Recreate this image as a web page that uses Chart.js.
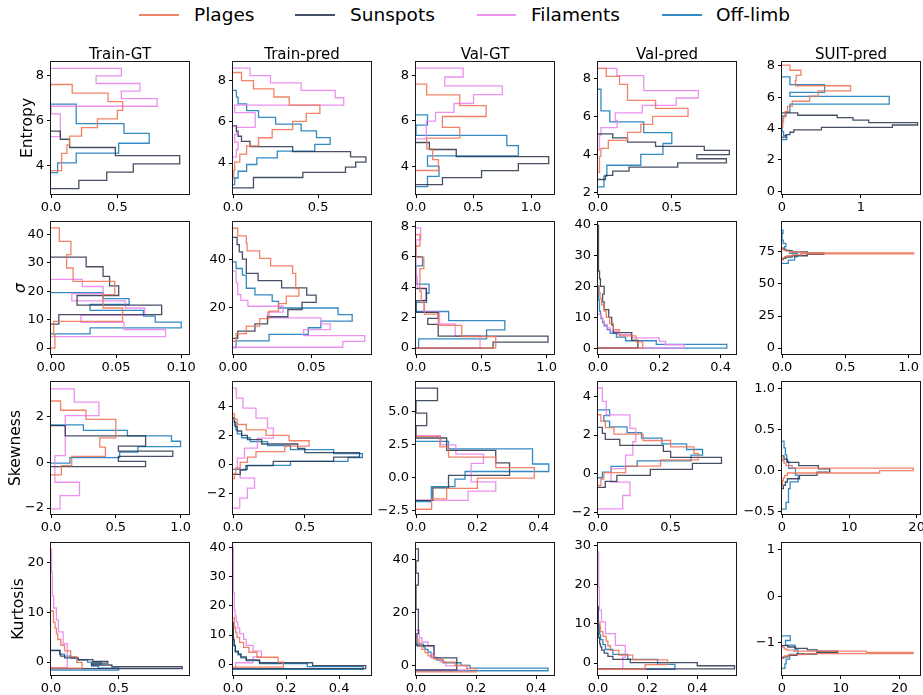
<!DOCTYPE html>
<html>
<head>
<meta charset="utf-8">
<script src="https://cdn.jsdelivr.net/npm/chart.js@4.4.1/dist/chart.umd.min.js"></script>
<style>
  body { margin: 0; background: #fff; }
  #figure { position: relative; width: 923px; height: 695px; overflow: hidden; font-family: 'DejaVu Sans', sans-serif; }
  #figure canvas { position: absolute; }
  .legend-line { position: absolute; height: 1.5px; top: 14px; }
  .legend-text { position: absolute; top: 3px; font-size: 18.5px; line-height: 24px; color: #000; white-space: nowrap; }
</style>
</head>
<body>
<div id="figure"></div>
<script>
var seriesNames = ['Plages', 'Sunspots', 'Filaments', 'Off-limb'];
var seriesColors = ['rgba(240,118,88,0.9)', 'rgba(38,50,74,0.85)', 'rgba(234,134,236,0.9)', 'rgba(30,126,190,0.9)'];
var columnTitles = ['Train-GT', 'Train-pred', 'Val-GT', 'Val-pred', 'SUIT-pred'];
var rowTitles = ['Entropy', 'σ', 'Skewness', 'Kurtosis'];

// each histogram: [lowest edge, highest edge, densities from the lowest bin up]
// order inside a panel: Plages, Sunspots, Filaments, Off-limb (null = not shown)

// Entropy
var entropyTrainGT = [
  [3.78, 7.61, [0.08, 0.08, 0.12, 0.14, 0.23, 0.35, 0.50, 0.54, 0.43, 0.16]],
  [2.98, 5.54, [0.21, 0.42, 0.62, 0.97, 0.485, 0.14, 0.07]],
  [5.29, 8.33, [0.07, 0.07, 0.07, 0.0, 0.80, 0.53, 0.67, 0.34, 0.53]],
  [3.69, 6.74, [0.05, 0.19, 0.51, 0.74, 0.55, 0.19, 0.19]]
];
var entropyTrainPred = [
  [3.25, 8.39, [0.005, 0.01, 0.04, 0.08, 0.15, 0.23, 0.35, 0.43, 0.51, 0.33, 0.24, 0.12, 0.05]],
  [2.80, 5.80, [0.12, 0.12, 0.41, 0.66, 0.72, 0.78, 0.69, 0.35, 0.10, 0.05, 0.03, 0.02]],
  [4.30, 8.60, [0.02, 0.03, 0.01, 0.02, 0.13, 0.13, 0.01, 0.65, 0.60, 0.40, 0.22, 0.10]],
  [2.95, 7.52, [0.01, 0.03, 0.08, 0.14, 0.26, 0.48, 0.57, 0.49, 0.40, 0.25, 0.15, 0.08, 0.03, 0.02]]
];
var entropyValGT = [
  [3.82, 7.61, [0.195, 0.145, 0.093, 0.38, 0.23, 0.61, 0.38, 0.093]],
  [3.20, 5.05, [0.23, 0.57, 0.89, 1.154, 0.35, 0.116]],
  [5.21, 8.31, [0.09, 0.09, 0.17, 0.33, 0.50, 0.75, 0.25, 0.41]],
  [3.11, 6.26, [0.10, 0.20, 0.10, 0.89, 0.79, 0.0, 0.10]]
];
var entropyValPred = [
  [3.08, 8.54, [0.01, 0.01, 0.02, 0.07, 0.20, 0.29, 0.37, 0.61, 0.39, 0.20, 0.20, 0.146, 0.056]],
  [2.70, 5.10, [0.05, 0.10, 0.21, 0.54, 0.87, 0.67, 0.89, 0.72, 0.39, 0.20, 0.10]],
  [4.25, 8.54, [0.01, 0.01, 0.02, 0.13, 0.117, 0.30, 0.53, 0.68, 0.31, 0.31, 0.128]],
  [2.31, 7.44, [0.04, 0.06, 0.29, 0.44, 0.50, 0.31, 0.08, 0.02, 0.02]]
];
var entropySuitPred = [
  [4.09, 8.05, [0.01, 0.02, 0.04, 0.07, 0.13, 0.35, 0.46, 0.87, 0.17, 0.18, 0.24, 0.10]],
  [3.45, 5.00, [0.05, 0.10, 0.15, 0.50, 1.40, 1.72, 1.10, 0.90, 0.70, 0.20]],
  null,
  [3.30, 7.30, [0.06, 0.02, 0, 0, 0, 0, 0.05, 0.10, 0.10, 1.36, 1.36, 0.10, 0.54, 0.54, 0.10, 0.10]]
];

// Sigma
var sigmaTrainGT = [
  [0, 42.3, [0.003, 0.002, 0.055, 0.040, 0.049, 0.017, 0.012, 0.0153, 0.0064]],
  [8.4, 32.0, [0.006, 0.085, 0.020, 0.052, 0.045, 0.040, 0.027]],
  [4.0, 24.2, [0.088, 0.056, 0.023, 0.072, 0.057, 0.016, 0.040, 0.024]],
  [5.0, 19.5, [0.030, 0.10, 0.080, 0.071, 0.030, 0.060, 0.040]]
];
var sigmaTrainPred = [
  [6.0, 53.0, [0.002, 0.0085, 0.017, 0.023, 0.029, 0.034, 0.042, 0.04, 0.04, 0.038, 0.024, 0.017, 0.009, 0.0085, 0.003]],
  [7.2, 49.2, [0.003, 0.014, 0.022, 0.035, 0.044, 0.053, 0.047, 0.031, 0.016, 0.0085, 0.0085, 0.006, 0.004, 0.0026]],
  [3.5, 35.2, [0.07, 0.084, 0.045, 0.062, 0.056, 0.022, 0.032, 0.0095, 0.005, 0.003, 0.003, 0.002, 0.002]],
  [3.4, 39.0, [0.002, 0.023, 0.048, 0.056, 0.076, 0.067, 0.029, 0.025, 0.014, 0.0085, 0.0085, 0.006, 0.002]]
];
var sigmaValGT = [
  [0, 7.45, [0.61, 0.35, 0.17, 0.064, 0.04, 0.03, 0.03, 0.06, 0.0, 0.03]],
  [0, 3.9, [0.59, 1.01, 0.17, 0.17, 0.09, 0.17, 0.0, 0.0, 0.08, 0.08]],
  [0, 7.9, [0.49, 0.30, 0.18, 0.06, 0.076, 0.01, 0.0, 0.0, 0.0, 0.036]],
  [0, 6.0, [0.02, 0.54, 0.68, 0.25, 0.0, 0.08, 0.10, 0.0, 0.0, 0.05]]
];
var sigmaValPred = [
  [0, 20, [0.146, 0.124, 0.07, 0.05, 0.038, 0.027, 0.02, 0.012, 0.007, 0.004]],
  [0, 40, [0.13, 0.11, 0.05, 0.045, 0.035, 0.02, 0.015, 0.02, 0.008, 0.005, 0.003, 0.002, 0.002, 0.001, 0.001, 0.002]],
  [0, 11, [0.28, 0.22, 0.2, 0.11, 0.065, 0.04, 0.03, 0.02, 0.015, 0.01]],
  [0, 20.4, [0.42, 0.19, 0.09, 0.06, 0.04, 0.03, 0.02, 0.015, 0.01, 0.008, 0.006, 0.005, 0.004, 0.003, 0.003, 0.002, 0.002]]
];
var sigmaSuitPred = [
  [69, 78, [0.005, 0.01, 0.02, 0.04, 0.08, 0.15, 1.04, 0.15, 0.06, 0.03, 0.01, 0.005]],
  [69, 78, [0.01, 0.03, 0.08, 0.2, 0.33, 0.2, 0.08, 0.03, 0.01]],
  null,
  [66, 92, [0.05, 0.1, 0.12, 0.06, 0.02, 0.03, 0.01, 0.0, 0.0, 0.008]]
];

// Skewness
var skewTrainGT = [
  [-0.55, 2.67, [0.08, 0.16, 0.42, 0.377, 0.50, 0.50, 0.27, 0.074]],
  [-0.19, 1.6, [0.73, 0.52, 0.94, 0.52, 0.73, 0.73, 0.11, 0.11]],
  [-2.04, 3.2, [0.07, 0.22, 0.03, 0.03, 0.11, 0.11, 0.11, 0.37, 0.18]],
  [-0.04, 1.63, [0.146, 0.53, 0.67, 1.0, 0.93, 0.59, 0.25]]
];
var skewTrainPred = [
  [-1.0, 3.5, [0.01, 0.02, 0.05, 0.10, 0.16, 0.36, 0.53, 0.39, 0.23, 0.093, 0.03, 0.01]],
  [-0.7, 3.2, [0.05, 0.09, 0.28, 0.7, 0.88, 0.5, 0.45, 0.2, 0.1, 0.06, 0.03, 0.02, 0.01]],
  [-3.04, 5.27, [0.047, 0.1, 0.15, 0.05, 0.03, 0.08, 0.17, 0.28, 0.24, 0.16, 0.07, 0.023]],
  [-0.35, 3.2, [0.1, 0.4, 0.8, 0.9, 0.7, 0.4, 0.24, 0.12, 0.06, 0.03, 0.02, 0.01, 0.01]]
];
var skewValGT = [
  [-2.43, 3.1, [0.051, 0.1, 0.2, 0.386, 0.26, 0.106, 0.078]],
  [-1.75, 6.76, [0.055, 0.106, 0.305, 0.26, 0.10, 0.0, 0.035, 0.0, 0.07]],
  [-1.75, 3.15, [0.17, 0.26, 0.18, 0.18, 0.22, 0.13, 0.08]],
  [-1.85, 2.72, [0.05, 0.05, 0.127, 0.16, 0.433, 0.38, 0.38, 0.106]]
];
var skewValPred = [
  [-0.6, 3.05, [0.02, 0.04, 0.19, 0.43, 0.69, 0.66, 0.5, 0.31, 0.11, 0.05, 0.02]],
  [-0.7, 2.4, [0.05, 0.13, 0.36, 0.65, 0.85, 0.5, 0.45, 0.15, 0.05, 0.03]],
  [-1.81, 4.43, [0.17, 0.22, 0.09, 0.19, 0.24, 0.26, 0.22, 0.057, 0.03]],
  [-0.2, 3.3, [0.03, 0.09, 0.27, 0.64, 0.72, 0.61, 0.44, 0.3, 0.2, 0.08, 0.04, 0.08]]
];
var skewSuitPred = [
  [-0.18, 0.15, [0.05, 0.1, 0.2, 0.4, 0.8, 14.5, 19.5, 1.5, 0.6, 0.3, 0.1]],
  [-0.22, 0.18, [0.2, 0.5, 0.8, 2.6, 5.2, 7.1, 5.4, 2.5, 0.8, 0.3]],
  null,
  [-0.47, 0.36, [0.6, 0.9, 1.0, 1.2, 2.4, 2.0, 1.0, 0.7, 0.5, 0.3]]
];

// Kurtosis
var kurtTrainGT = [
  [-1.2, 10.3, [0.23, 0.19, 0.145, 0.10, 0.073, 0.05, 0.04, 0.03, 0.02, 0.017]],
  [-1.3, 2.3, [0.97, 0.45, 0.30, 0.42, 0.31, 0.2, 0.1, 0.07, 0.066, 0.066]],
  [-1.1, 22.9, [0.12, 0.12, 0.09, 0.055, 0.04, 0.02, 0.01, 0.01, 0.006, 0.005]],
  [-1.6, 2.4, [0.5, 0.35, 0.3, 0.37, 0.27, 0.2, 0.15, 0.1, 0.066, 0.066]]
];
var kurtTrainPred = [
  [-1.0, 16, [0.19, 0.17, 0.09, 0.06, 0.04, 0.025, 0.015, 0.01, 0.006, 0.004]],
  [-1.5, 14.5, [0.5, 0.3, 0.1, 0.05, 0.03, 0.02, 0.01, 0.008, 0.005, 0.004, 0.003, 0.002, 0.002, 0.001, 0.001, 0.001]],
  [-1.5, 40.5, [0.01, 0.076, 0.107, 0.076, 0.05, 0.04, 0.025, 0.018, 0.012, 0.008, 0.006, 0.005, 0.004, 0.003, 0.003, 0.002, 0.002, 0.001, 0.001, 0.001, 0.001]],
  [-1.8, 14.2, [0.49, 0.28, 0.1, 0.05, 0.03, 0.02, 0.01, 0.008, 0.005, 0.004, 0.003, 0.002, 0.002, 0.001, 0.001, 0.001]]
];
var kurtValGT = [
  [-2.2, 9.8, [0.2, 0.17, 0.13, 0.09, 0.06, 0.04, 0.03, 0.02, 0.015, 0.01]],
  [-1.5, 44, [0.136, 0.06, 0.003, 0.008, 0.008, 0, 0, 0.008, 0, 0.008]],
  [-1.5, 13.5, [0.17, 0.1, 0.08, 0.05, 0.06, 0.06, 0.04, 0.02, 0.012, 0.01]],
  [-1.8, 8.2, [0.44, 0.18, 0.15, 0.09, 0.07, 0.05, 0.05, 0.04, 0.03, 0.025]]
];
var kurtValPred = [
  [-1.6, 10.4, [0.19, 0.28, 0.14, 0.084, 0.05, 0.04, 0.033, 0.02, 0.01, 0.008]],
  [-1.5, 14.5, [0.55, 0.4, 0.13, 0.06, 0.04, 0.025, 0.015, 0.01, 0.008, 0.006, 0.004, 0.003, 0.002, 0.002, 0.001, 0.001, 0.001, 0.001, 0.001, 0.001]],
  [-1.5, 28.5, [0.1, 0.11, 0.07, 0.03, 0.014, 0.007, 0.005, 0.004, 0.003, 0.003]],
  [-1.6, 11, [0.31, 0.24, 0.12, 0.06, 0.03, 0.02, 0.01, 0.008, 0.006, 0.004]]
];
var kurtSuitPred = [
  [-1.33, -1.08, [0.1, 0.4, 1.2, 4, 22.3, 14.4, 2, 0.8, 0.4, 0.2]],
  [-1.33, -1.06, [0.3, 1.0, 2.5, 5.9, 9.5, 6, 4.3, 2.3, 1.0]],
  null,
  [-1.55, -0.85, [0.5, 0.7, 1.3, 2.7, 2.2, 0.6, 1.4]]
];

// axis limits and tick labels, one entry per column
var entropyXMax = [1.04, 0.81, 1.2, 0.935, 1.75];
var entropyYRange = [[2.74, 8.61], [2.5, 8.9], [2.79, 8.58], [1.94, 8.87], [-0.18, 8.245]];
var entropyXTicks = [['0.0', '0.5'], ['0.0', '0.5'], ['0.0', '0.5', '1.0'], ['0.0', '0.5'], ['0', '1']];
var entropyYTicks = [['4', '6', '8'], ['4', '6', '8'], ['4', '6', '8'], ['2', '4', '6', '8'], ['0', '2', '4', '6', '8']];

var sigmaXMax = [0.106, 0.088, 1.056, 0.45, 1.09];
var sigmaYRange = [[-2.1, 44.4], [0.7, 55.6], [-0.39, 8.28], [-1.9, 40.9], [-4.6, 98.3]];
var sigmaXTicks = [['0.00', '0.05', '0.10'], ['0.00', '0.05'], ['0.0', '0.5', '1.0'], ['0.0', '0.2', '0.4'], ['0.0', '0.5', '1.0']];
var sigmaYTicks = [['0', '10', '20', '30', '40'], ['20', '40'], ['0', '2', '4', '6', '8'], ['0', '10', '20', '30', '40'], ['0', '25', '50', '75']];

var skewXMax = [1.065, 0.96, 0.45, 0.95, 20.5];
var skewYRange = [[-2.26, 3.5], [-3.44, 5.69], [-2.79, 7.23], [-2.07, 4.74], [-0.53, 1.08]];
var skewXTicks = [['0.0', '0.5', '1.0'], ['0.0', '0.5'], ['0.0', '0.2', '0.4'], ['0.0', '0.5'], ['0', '10', '20']];
var skewYTicks = [['−2', '0', '2'], ['−2', '0', '2', '4'], ['−2.5', '0.0', '2.5', '5.0'], ['−2', '0', '2', '4'], ['−0.5', '0.0', '0.5', '1.0']];

var kurtXMax = [1.02, 0.52, 0.46, 0.556, 23.5];
var kurtYRange = [[-2.6, 24.0], [-3.7, 41.6], [-3.4, 46.2], [-3.06, 30.6], [-1.69, 1.14]];
var kurtXTicks = [['0.0', '0.5'], ['0.0', '0.2', '0.4'], ['0.0', '0.2', '0.4'], ['0.0', '0.2', '0.4'], ['0', '10', '20']];
var kurtYTicks = [['0', '10', '20'], ['0', '10', '20', '30', '40'], ['0', '20', '40'], ['0', '10', '20', '30'], ['−1', '0', '1']];

var rows = [
  { hists: [entropyTrainGT, entropyTrainPred, entropyValGT, entropyValPred, entropySuitPred],
    xMax: entropyXMax, yRange: entropyYRange, xTicks: entropyXTicks, yTicks: entropyYTicks },
  { hists: [sigmaTrainGT, sigmaTrainPred, sigmaValGT, sigmaValPred, sigmaSuitPred],
    xMax: sigmaXMax, yRange: sigmaYRange, xTicks: sigmaXTicks, yTicks: sigmaYTicks },
  { hists: [skewTrainGT, skewTrainPred, skewValGT, skewValPred, skewSuitPred],
    xMax: skewXMax, yRange: skewYRange, xTicks: skewXTicks, yTicks: skewYTicks },
  { hists: [kurtTrainGT, kurtTrainPred, kurtValGT, kurtValPred, kurtSuitPred],
    xMax: kurtXMax, yRange: kurtYRange, xTicks: kurtXTicks, yTicks: kurtYTicks }
];

// grid geometry
var colLeft = [51, 233, 416, 598, 782];
var rowTop = [62, 222, 382, 543];
var PANEL_W = 138, PANEL_H = 132;
var AXIS_W = 50, AXIS_H = 28, PAD_TOP = 30, PAD_RIGHT = 16;
var rowLabelPad = [17.5, 11, 6, 9];

Chart.defaults.font.family = "'DejaVu Sans', sans-serif";
Chart.defaults.font.size = 13;
Chart.defaults.color = '#000';

// box around the plot area
var framePlugin = {
  id: 'frame',
  afterDraw: function (chart) {
    var a = chart.chartArea;
    var ctx = chart.ctx;
    ctx.save();
    ctx.strokeStyle = '#1a1a1a';
    ctx.lineWidth = 1;
    ctx.strokeRect(a.left - 0.5, a.top - 0.5, a.right - a.left + 1, a.bottom - a.top + 1);
    ctx.restore();
  }
};

// title centred over the plot area (top row only)
var columnTitlePlugin = {
  id: 'columnTitle',
  afterDraw: function (chart, args, opts) {
    if (!opts.text) return;
    var a = chart.chartArea;
    var ctx = chart.ctx;
    ctx.save();
    ctx.font = "15px 'DejaVu Sans', sans-serif";
    ctx.fillStyle = '#000';
    ctx.textAlign = 'center';
    ctx.textBaseline = 'alphabetic';
    ctx.fillText(opts.text, (a.left + a.right) / 2, a.top - 3);
    ctx.restore();
  }
};

function toNumber(label) {
  return Number(label.replace('−', '-'));
}

// step outline of a horizontal histogram, as matplotlib draws histtype='step'
function stepOutline(hist) {
  var lo = hist[0], hi = hist[1], dens = hist[2];
  var w = (hi - lo) / dens.length;
  var pts = [{ x: 0, y: lo }];
  for (var i = 0; i < dens.length; i++) {
    pts.push({ x: dens[i], y: lo + i * w });
    pts.push({ x: dens[i], y: lo + (i + 1) * w });
  }
  pts.push({ x: 0, y: hi });
  return pts;
}

function fixedTicks(labels) {
  return function (scale) {
    scale.ticks = labels.map(function (l) { return { value: toNumber(l) }; });
  };
}

var figure = document.getElementById('figure');

// legend
var legendLine = [[139, 179], [295, 335], [477, 516], [662, 702]];
var legendText = [194, 350, 531, 716];
for (var k = 0; k < seriesNames.length; k++) {
  var ln = document.createElement('div');
  ln.className = 'legend-line';
  ln.style.left = legendLine[k][0] + 'px';
  ln.style.width = (legendLine[k][1] - legendLine[k][0]) + 'px';
  ln.style.background = seriesColors[k];
  figure.appendChild(ln);
  var tx = document.createElement('div');
  tx.className = 'legend-text';
  tx.style.left = legendText[k] + 'px';
  tx.textContent = seriesNames[k];
  figure.appendChild(tx);
}

function makePanel(r, c) {
  var row = rows[r];
  var canvas = document.createElement('canvas');
  var w = AXIS_W + PANEL_W + PAD_RIGHT;
  var h = PAD_TOP + PANEL_H + AXIS_H;
  canvas.width = w;
  canvas.height = h;
  canvas.style.left = (colLeft[c] - AXIS_W) + 'px';
  canvas.style.top = (rowTop[r] - PAD_TOP) + 'px';
  canvas.style.width = w + 'px';
  canvas.style.height = h + 'px';
  figure.appendChild(canvas);

  var datasets = [];
  row.hists[c].forEach(function (hist, s) {
    if (!hist) return;
    datasets.push({
      label: seriesNames[s],
      data: stepOutline(hist),
      showLine: true,
      borderColor: seriesColors[s],
      borderWidth: 1.3,
      pointRadius: 0,
      fill: false,
      tension: 0
    });
  });

  var xLabels = row.xTicks[c];
  var yLabels = row.yTicks[c];

  new Chart(canvas, {
    type: 'scatter',
    data: { datasets: datasets },
    options: {
      responsive: false,
      animation: false,
      devicePixelRatio: 1,
      events: [],
      layout: { padding: { top: PAD_TOP, right: PAD_RIGHT, left: 0, bottom: 0 } },
      plugins: {
        legend: { display: false },
        tooltip: { enabled: false },
        columnTitle: { text: r === 0 ? columnTitles[c] : '' }
      },
      scales: {
        x: {
          type: 'linear',
          min: 0,
          max: row.xMax[c],
          afterBuildTicks: fixedTicks(xLabels),
          afterFit: function (scale) { scale.height = AXIS_H; },
          border: { display: false },
          grid: { drawOnChartArea: false, drawTicks: true, tickLength: 4, tickColor: '#000', lineWidth: 1 },
          ticks: {
            autoSkip: false, maxRotation: 0, padding: 2, color: '#000',
            callback: function (v, i) { return xLabels[i]; }
          }
        },
        y: {
          type: 'linear',
          min: row.yRange[c][0],
          max: row.yRange[c][1],
          afterBuildTicks: fixedTicks(yLabels),
          afterFit: function (scale) { scale.width = AXIS_W; },
          border: { display: false },
          grid: { drawOnChartArea: false, drawTicks: true, tickLength: 4, tickColor: '#000', lineWidth: 1 },
          ticks: {
            autoSkip: false, padding: 3, color: '#000',
            callback: function (v, i) { return yLabels[i]; }
          },
          title: {
            display: c === 0,
            text: rowTitles[r],
            color: '#000',
            font: { size: 15.5, style: r === 1 ? 'italic' : 'normal' },
            padding: { top: rowLabelPad[r], bottom: 0 }
          }
        }
      }
    },
    plugins: [framePlugin, columnTitlePlugin]
  });
}

for (var r = 0; r < rows.length; r++) {
  for (var c = 0; c < columnTitles.length; c++) {
    makePanel(r, c);
  }
}
</script>
</body>
</html>
